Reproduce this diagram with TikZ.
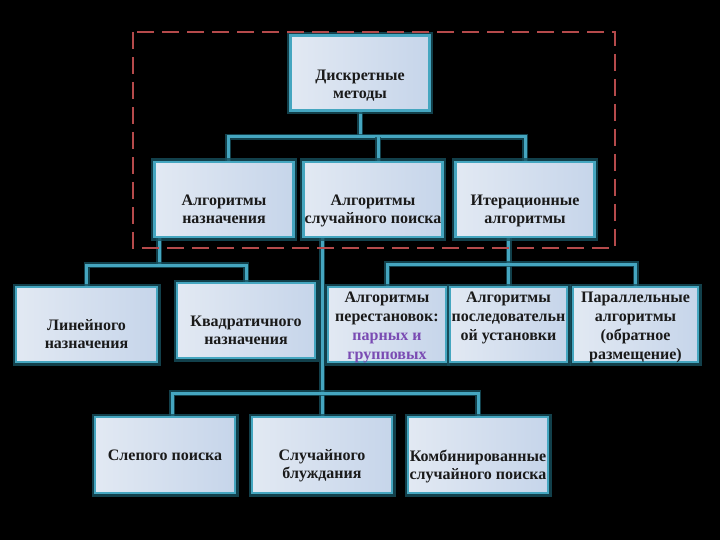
\documentclass[tikz,border=0pt]{standalone}
\usepackage{fontspec}
\setmainfont{Liberation Serif}
\newfontfamily\shrift{Liberation Serif}
\usepackage{tikz}
\usetikzlibrary{
  backgrounds,
  calc,
  positioning
}
\definecolor{ramka}{HTML}{45A6C0}
\definecolor{svet}{HTML}{17505E}
\definecolor{liniya}{HTML}{45A6C0}
\definecolor{punktir}{HTML}{B54A4B}
\definecolor{tekst}{HTML}{1A1A1A}
\definecolor{fiolet}{HTML}{7A4BB3}
\definecolor{zalivka1}{HTML}{E2E9F3}
\definecolor{zalivka2}{HTML}{C6D5EA}
\tikzset{
  blok/.style={
    draw=ramka,
    line width=2.8pt,
    left color=zalivka1,
    right color=zalivka2,
    minimum width=139pt,
    minimum height=75pt,
    inner sep=0pt,
    preaction={draw=svet, line width=7pt, opacity=.8}
  },
  nadpis/.style={
    font=\shrift\bfseries\fontsize{16}{18}\selectfont,
    text=tekst,
    align=center,
    inner sep=0pt,
    anchor=north
  },
  tesno/.style={font=\shrift\bfseries\fontsize{16}{19}\selectfont},
  svyaz/.style={draw=liniya, line width=3pt,
    preaction={draw=svet, line width=6pt, opacity=.8}}
}
\begin{document}
\begin{tikzpicture}[x=1pt, y=-1pt]
				\begin{scope}[on background layer]
				\fill[black] (0,0) rectangle (720,540);
				\end{scope}
				\useasboundingbox (0,0) rectangle (720,540);
				% boxes
				\node[blok] (top) at (360,73) {};
				\node[blok] (nazn) at (224,199.5) {};
				\node[blok] (sluch) at (373,199.5) {};
				\node[blok] (iter) at (525,199.5) {};
				\node[blok, minimum width=141pt] (lin) at (86.5,324.5) {};
				\node[blok, minimum width=138pt] (kvadr) at (246,320.5) {};
				\node[blok, minimum width=118pt] (perest) at (387,324.5) {};
				\node[blok, minimum width=117pt] (posl) at (508.5,324.5) {};
				\node[blok, minimum width=125pt] (parall) at (635.5,324.5) {};
				\node[blok, minimum width=140pt, minimum height=76pt] (slep) at (165,455) {};
				\node[blok, minimum width=140pt, minimum height=76pt] (bluzh) at (322,455) {};
				\node[blok, minimum width=140pt, minimum height=76pt] (komb) at (478,455) {};
				% texts
				\node[nadpis] (topT) at ([yshift=-36pt]top.north) {Дискретные\\методы};
				\node[nadpis] (naznT) at ([yshift=-34pt]nazn.north) {Алгоритмы\\назначения};
				\node[nadpis] (sluchT) at ([yshift=-34pt]sluch.north) {Алгоритмы\\случайного поиска};
				\node[nadpis] (iterT) at ([yshift=-34pt]iter.north) {Итерационные\\алгоритмы};
				\node[nadpis] (linT) at ([yshift=-34pt]lin.north) {Линейного\\назначения};
				\node[nadpis] (kvadrT) at ([yshift=-34pt]kvadr.north) {Квадратичного\\назначения};
				\node[nadpis, tesno] (perestT) at ([yshift=-6pt]perest.north)
				  {Алгоритмы\\перестановок:\\\textcolor{fiolet}{парных и}\\\textcolor{fiolet}{групповых}};
				\node[nadpis, tesno] (poslT) at ([yshift=-6pt]posl.north)
				  {Алгоритмы\\последовательн\\ой установки};
				\node[nadpis, tesno] (parallT) at ([yshift=-6pt]parall.north)
				  {Параллельные\\алгоритмы\\(обратное\\размещение)};
				\node[nadpis] (slepT) at ([yshift=-34pt]slep.north) {Слепого поиска};
				\node[nadpis] (bluzhT) at ([yshift=-34pt]bluzh.north) {Случайного\\блуждания};
				\node[nadpis] (kombT) at ([yshift=-34pt]komb.north) {Комбинированные\\случайного поиска};
				% connectors
				\coordinate (j1) at (360,137);
				\coordinate (j2) at (159,265);
				\coordinate (j3) at (508.5,264);
				\coordinate (j4) at (322,393);
				\coordinate (n1) at ([xshift=4pt]nazn.north);
				\coordinate (s1) at ([xshift=5pt]sluch.north);
				\coordinate (n2) at ([xshift=-65pt]nazn.south);
				\coordinate (i2) at ([xshift=-16.5pt]iter.south);
				\coordinate (s2) at ([xshift=-51pt]sluch.south);
				\coordinate (c1) at ([xshift=7pt]slep.north);
				\begin{scope}[on background layer]
				\draw[svyaz] (top.south) -- (j1);
				\draw[svyaz] (n1) |- (j1) -| (iter.north);
				\draw[svyaz] (s1) -- (s1 |- j1);
				\draw[svyaz] (n2) -- (j2);
				\draw[svyaz] (lin.north) |- (j2) -| (kvadr.north);
				\draw[svyaz] (i2) -- (posl.north);
				\draw[svyaz] (perest.north) |- (j3) -| (parall.north);
				\draw[svyaz] (s2) -- (bluzh.north);
				\draw[svyaz] (c1) |- (j4) -| (komb.north);
				\end{scope}
				% dashed frame
				\draw[punktir, line width=2.5pt, dash pattern=on 17pt off 8pt] (133,32) rectangle (615,248);
			\end{tikzpicture}
\end{document}
